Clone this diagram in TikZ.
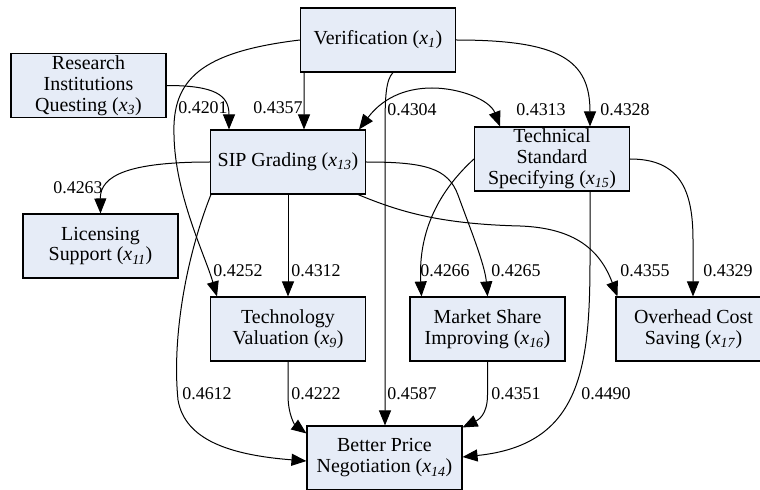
\documentclass[tikz,border=0pt]{standalone}
\usepackage{fontspec}
\setmainfont{Liberation Serif}
\usetikzlibrary{arrows.meta}
\definecolor{boxfill}{RGB}{230,236,247}
\newcommand\xsub[1]{\textit{x}\textsubscript{\textit{#1}}}
\begin{document}
\begin{tikzpicture}[x=1bp,y=-1bp,
  box/.style={draw=black, line width=1.1bp, fill=boxfill, minimum width=155bp, minimum height=64bp,
    inner sep=0pt, align=center, font=\fontsize{20}{21}\selectfont},
  lbl/.style={inner sep=0pt, font=\fontsize{18}{18}\selectfont},
  edge/.style={line width=1bp, -{Triangle[length=15bp,width=12bp]}},
  bidir/.style={line width=1bp, {Triangle[length=15bp,width=12bp]}-{Triangle[length=15bp,width=12bp]}}]
\clip (0,0) rectangle (760,490);
\fill[white] (0,0) rectangle (760,490);
% nodes
\node[box] (x1)  at (378,40)    {Verification (\xsub{1})};
\node[box] (x3)  at (88.5,85.5) {Research\\Institutions\\Questing (\xsub{3})};
\node[box] (x13) at (288,162)   {SIP Grading (\xsub{13})};
\node[box] (x11) at (100.5,246) {Licensing\\Support (\xsub{11})};
\node[box] (x15) at (552,159)   {Technical\\Standard\\Specifying (\xsub{15})};
\node[box] (x9)  at (288,329)   {Technology\\Valuation (\xsub{9})};
\node[box] (x16) at (487.5,329) {Market Share\\Improving (\xsub{16})};
\node[box] (x17) at (693.5,329) {Overhead Cost\\Saving (\xsub{17})};
\node[box] (x14) at (384.5,458) {Better Price\\Negotiation (\xsub{14})};
% edges
\draw[edge] ([xshift=-74bp]x1.south) -- ([xshift=16bp]x13.north);
\draw[edge] (x3.east) .. controls (215,85.5) and (229,95) .. ([xshift=-59bp]x13.north);
\draw[edge] (x1.west) .. controls (200,52) and (172,80) .. (174,135)
  .. controls (175,195) and (205,255) .. ([xshift=-71bp]x9.north);
\draw[edge] ([xshift=15bp]x1.south) .. controls (386,80) and (385,95) .. (385,130)
  -- ([xshift=0.5bp]x14.north);
\draw[edge] (x1.east) .. controls (560,40) and (590,60) .. ([xshift=38bp]x15.north);
\draw[bidir] ([xshift=71bp]x13.north) .. controls (385,95) and (410,88) .. (432,88)
  .. controls (460,88) and (490,100) .. ([xshift=-52bp]x15.north);
\draw[edge] (x13.west) .. controls (130,162) and (100,175) .. (x11.north);
\draw[edge] (x13.south) -- (x9.north);
\draw[edge] (x13.east) .. controls (425,162) and (448,168) .. (458,195)
  .. controls (470,228) and (485,265) .. (x16.north);
\draw[edge] ([xshift=70bp]x13.south) .. controls (400,212) and (440,224) .. (520,226)
  .. controls (575,228) and (600,250) .. ([xshift=2bp]x17.north west);
\draw[edge] ([xshift=1bp]x13.south west) .. controls (185,260) and (172,340) .. (178,400)
  .. controls (185,440) and (230,455) .. ([yshift=-3bp]x14.west);
\draw[edge] (x15.west) .. controls (440,190) and (418,230) .. ([xshift=-66bp]x16.north);
\draw[edge] (x15.east) .. controls (680,159) and (693,190) .. (693,240) -- ([xshift=-0.5bp]x17.north);
\draw[edge] ([xshift=38bp]x15.south) -- (590,260) .. controls (590,370) and (580,445) .. ([yshift=1bp]x14.east);
\draw[edge] (x9.south) -- (288,395) .. controls (288,415) and (295,425) .. ([yshift=-8bp]x14.north west);
\draw[edge] (x16.south) -- (487.5,395) .. controls (487.5,415) and (478,420) .. ([yshift=-2bp]x14.north east);
% labels
\node[lbl] (l1)  at (278,108) {0.4357};
\node[lbl] (l2)  at (203,108) {0.4201};
\node[lbl] (l3)  at (238,271) {0.4252};
\node[lbl] (l4)  at (412,394) {0.4587};
\node[lbl] (l5)  at (625,110) {0.4328};
\node[lbl] (l6)  at (412,110) {0.4304};
\node[lbl] (l7)  at (541,110) {0.4313};
\node[lbl] (l8)  at (78,188)  {0.4263};
\node[lbl] (l9)  at (316,271) {0.4312};
\node[lbl] (l10) at (516,271) {0.4265};
\node[lbl] (l11) at (645,271) {0.4355};
\node[lbl] (l12) at (207,394) {0.4612};
\node[lbl] (l13) at (445,271) {0.4266};
\node[lbl] (l14) at (728,271) {0.4329};
\node[lbl] (l15) at (606,394) {0.4490};
\node[lbl] (l16) at (316,394) {0.4222};
\node[lbl] (l17) at (516,394) {0.4351};
\end{tikzpicture}
\end{document}
